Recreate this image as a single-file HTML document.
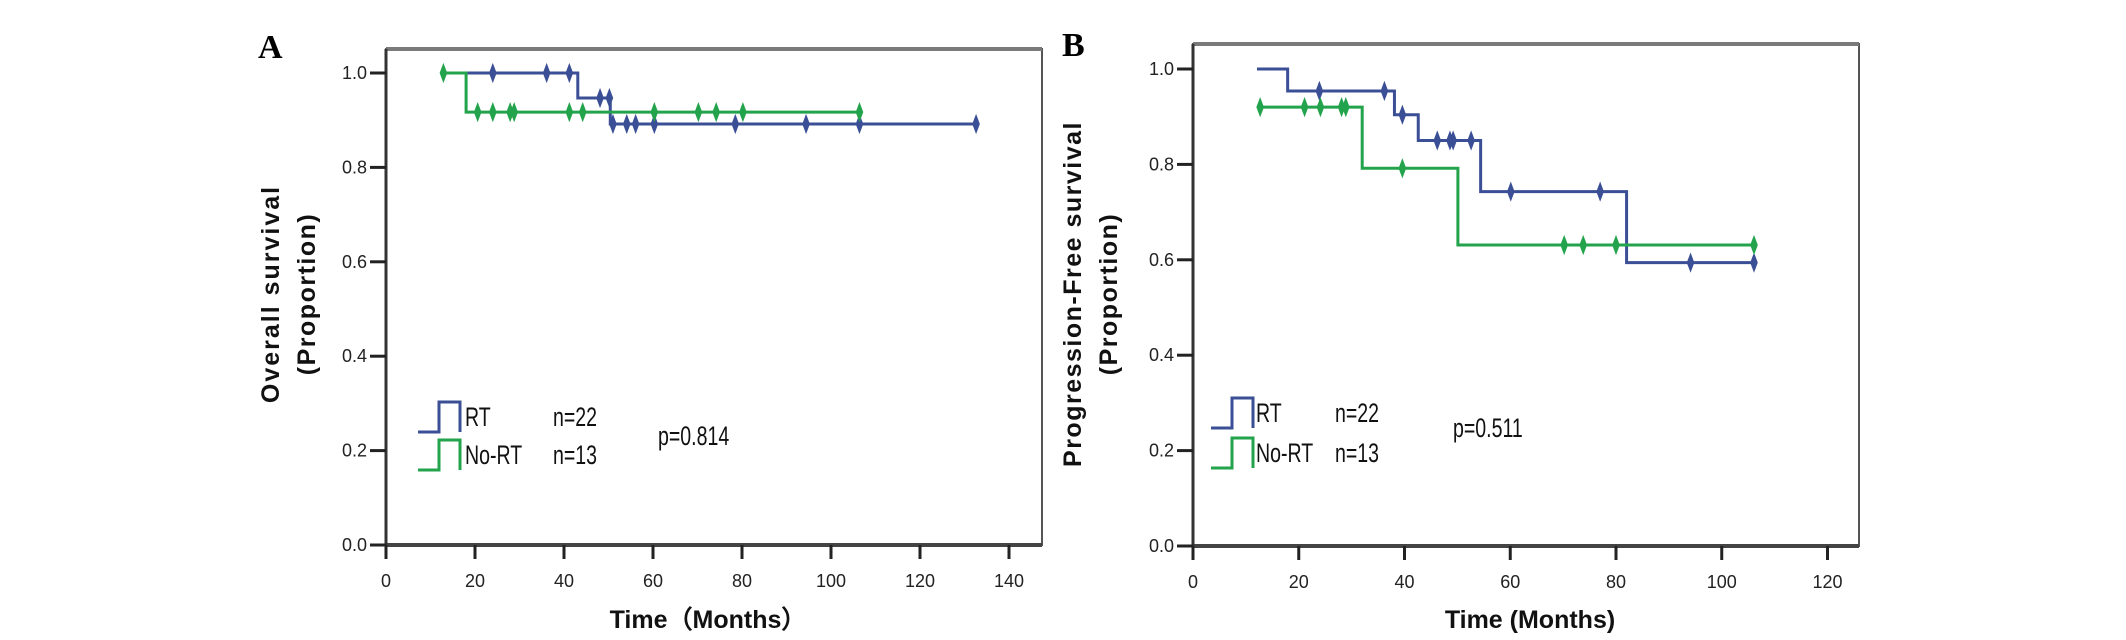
<!DOCTYPE html>
<html><head><meta charset="utf-8"><style>
html,body{margin:0;padding:0;background:#fff;}
svg{display:block;font-family:"Liberation Sans",Arial,sans-serif;}
</style></head><body>
<svg id="fig" width="2126" height="640" viewBox="0 0 2126 640">
<text x="258" y="58" font-family="Liberation Serif" font-weight="bold" font-size="34">A</text>
<text x="1062" y="56" font-family="Liberation Serif" font-weight="bold" font-size="34">B</text>
<g id="pa"></g>
<g id="pb"></g>
</svg>
<script>
// Panel A data (Overall survival)
const aTicksX = [0,20,40,60,80,100,120,140];
const aTicksY = [0.0,0.2,0.4,0.6,0.8,1.0];
const aRtSteps = [[13,1.0],[43.1,0.947],[50.4,0.892],[132.6,0.892]];
const aRtCensor = [24,36.1,41.2,48.1,50.2,51,54.1,56.1,60.3,78.5,94.4,106.4,132.6];
const aNoSteps = [[12.9,1.0],[18,0.917],[106.4,0.917]];
const aNoCensor = [12.9,20.6,24,27.9,28.8,41.2,44.2,60.3,70.2,74.2,80.2,106.4];
// Panel B data (Progression-free survival)
const bTicksX = [0,20,40,60,80,100,120];
const bTicksY = [0.0,0.2,0.4,0.6,0.8,1.0];
const bRtSteps = [[12.1,1.0],[17.9,0.954],[38.1,0.904],[42.6,0.850],[54.4,0.743],[82.0,0.594],[106.1,0.594]];
const bRtCensor = [23.9,36.2,39.6,46.2,48.6,49.2,52.6,60.1,77.0,94.1,106.1];
const bNoSteps = [[12.7,0.920],[32.0,0.792],[50.1,0.631],[106.1,0.631]];
const bNoCensor = [12.7,21.1,24.1,28.1,28.9,39.6,70.2,73.8,80.0,106.1];

const NS='http://www.w3.org/2000/svg';
const BLUE='#3b4f96', GREEN='#22a34c';
function mk(parent,tag,attrs){const e=document.createElementNS(NS,tag);for(const k in attrs)e.setAttribute(k,attrs[k]);parent.appendChild(e);return e;}

function panel(g,cfg){
  const sx=m=>cfg.x0+m*cfg.px;
  const sy=v=>cfg.y0-v*(cfg.y0-cfg.y1);
  let r=mk(g,'rect',{x:cfg.x0,y:cfg.top,width:cfg.right-cfg.x0,height:cfg.y0-cfg.top,fill:'none',stroke:'#555','stroke-width':2});
  
  
  let t=mk(g,'line',{x1:cfg.x0,x2:cfg.right,y1:cfg.top,y2:cfg.top,stroke:'#7a7a7a','stroke-width':4});
  
  
  let b=mk(g,'line',{x1:cfg.x0,x2:cfg.right,y1:cfg.y0,y2:cfg.y0,stroke:'#444','stroke-width':4});
  
  
  let yl=mk(g,'line',{x1:cfg.x0,x2:cfg.x0,y1:cfg.top,y2:cfg.y0,stroke:'#333','stroke-width':3});
  
  
  cfg.tx.forEach(v=>{
    const l=mk(g,'line',{x1:sx(v),x2:sx(v),y1:cfg.y0,y2:cfg.y0+14,stroke:'#222','stroke-width':3});
    
    
    const tt=mk(g,'text',{x:sx(v),y:cfg.y0+42,'text-anchor':'middle','font-size':18,fill:'#222'});
    tt.textContent=v;
    
    
  });
  cfg.ty.forEach(v=>{
    const l=mk(g,'line',{x1:cfg.x0-16,x2:cfg.x0,y1:sy(v),y2:sy(v),stroke:'#222','stroke-width':3});
    
    
    const tt=mk(g,'text',{x:cfg.x0-19,y:sy(v)+6,'text-anchor':'end','font-size':18,fill:'#222'});
    tt.textContent=v.toFixed(1);
    
    
  });
  [[cfg.rt,cfg.rtc,BLUE,'rt'],[cfg.no,cfg.noc,GREEN,'no-rt']].forEach(([st,cen,col,nm])=>{
    let d='M'+sx(st[0][0])+','+sy(st[0][1]);
    for(let i=1;i<st.length;i++){d+=' H'+sx(st[i][0])+' V'+sy(st[i][1]);}
    const p=mk(g,'path',{d:d,fill:'none',stroke:col,'stroke-width':3});
    
    
    const lv=m=>{let v=st[0][1];st.forEach(s=>{if(s[0]<=m+1e-9)v=s[1];});return v;};
    cen.forEach(m=>{
      const x=sx(m),y=sy(lv(m));
      const c=mk(g,'path',{d:`M${x},${y-8} L${x+3},${y} L${x},${y+8} L${x-3},${y} Z`,fill:col,stroke:col,'stroke-width':1.5});
      
      
    });
  });
  const xt=mk(g,'text',{x:cfg.xtX,y:628,'text-anchor':'middle','font-size':25,'font-weight':'bold',fill:'#111'});
  xt.textContent=cfg.xtitle;
  
  
  const cy=294;
  const y1=mk(g,'text',{x:0,y:0,'text-anchor':'middle','font-size':25,'font-weight':'bold','letter-spacing':cfg.ls,fill:'#111',transform:`translate(${cfg.ytX1+9},${cy}) rotate(-90)`});
  y1.textContent=cfg.ytitle;
  
  
  const y2=mk(g,'text',{x:0,y:0,'text-anchor':'middle','font-size':25,'font-weight':'bold','letter-spacing':1.5,fill:'#111',transform:`translate(${cfg.ytX2+9},${cy}) rotate(-90)`});
  y2.textContent='(Proportion)';
  
  
  const L=cfg.leg;
  [[BLUE,'RT','n=22',L.y1],[GREEN,'No-RT','n=13',L.y2]].forEach(([col,lab,n,yy])=>{
    const ic=mk(g,'path',{d:`M${L.ix},${yy+30} H${L.ix+L.iw/2} V${yy} H${L.ix+L.iw} V${yy+30}`,fill:'none',stroke:col,'stroke-width':3});
    
    
    const tl=mk(g,'text',{x:L.tx,y:yy+24,'font-size':23,fill:'#111'});
    tl.setAttribute('transform',`matrix(0.85,0,0,1.15,${L.tx*0.15},${-(yy+24)*0.15})`);
    tl.textContent=lab;
    
    
    const tn=mk(g,'text',{x:L.nx,y:yy+24,'font-size':23,fill:'#111'});
    tn.setAttribute('transform',`matrix(0.85,0,0,1.15,${L.nx*0.15},${-(yy+24)*0.15})`);
    tn.textContent=n;
    
    
  });
  const pv=mk(g,'text',{x:L.px,y:L.py,'font-size':23,fill:'#111'});
  pv.setAttribute('transform',`matrix(0.85,0,0,1.15,${L.px*0.15},${-L.py*0.15})`);
  pv.textContent=L.p;
  
  
}

panel(document.getElementById('pa'),{x0:386,px:4.45,y0:545,y1:73,top:49,right:1042,
  tx:aTicksX,ty:aTicksY,rt:aRtSteps,rtc:aRtCensor,no:aNoSteps,noc:aNoCensor,
  xtitle:'Time（Months）',xtX:708,ytitle:'Overall survival',ytX1:270,ytX2:306,ls:2,
  leg:{ix:418,iw:42,y1:402,y2:440,tx:465,nx:553,px:658,py:445,p:'p=0.814'}});
panel(document.getElementById('pb'),{x0:1193,px:5.2875,y0:546,y1:69,top:44,right:1859,
  tx:bTicksX,ty:bTicksY,rt:bRtSteps,rtc:bRtCensor,no:bNoSteps,noc:bNoCensor,
  xtitle:'Time (Months)',xtX:1530,ytitle:'Progression-Free survival',ytX1:1072,ytX2:1108,ls:1.5,
  leg:{ix:1211,iw:42,y1:398,y2:438,tx:1256,nx:1335,px:1453,py:437,p:'p=0.511'}});
</script>
</body></html>
